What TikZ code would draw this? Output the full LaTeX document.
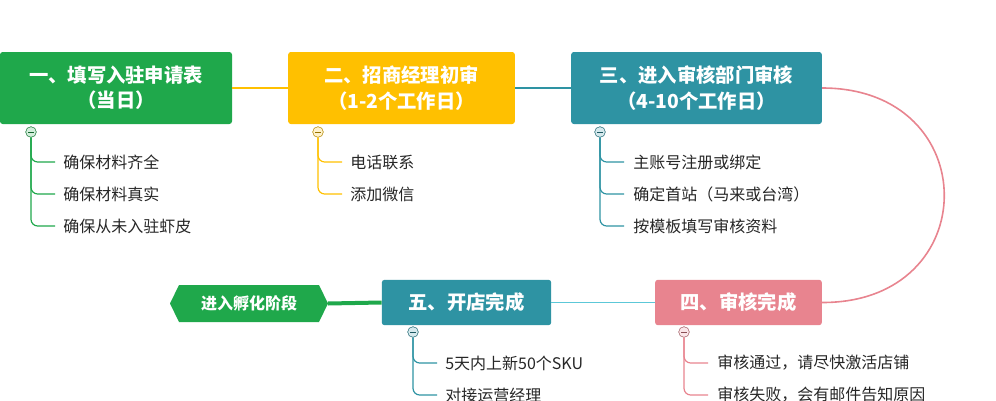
\documentclass[tikz,border=0pt]{standalone}
\usepackage{fontspec}
\setmainfont{Noto Sans CJK SC}
\definecolor{cg}{HTML}{1FA84B}
\definecolor{cy}{HTML}{FFC000}
\definecolor{ct}{HTML}{2E93A3}
\definecolor{cp}{HTML}{E8848F}
\definecolor{cl}{HTML}{5CC8D8}
\begin{document}
\begin{tikzpicture}[x=0.75pt,y=-0.75pt,
 box/.style={rounded corners=2pt,text=white,font=\fontsize{14.5}{19}\selectfont\bfseries,align=center,inner sep=0pt},
 leaf/.style={anchor=west,font=\fontsize{12}{14}\selectfont,text=black!85,inner sep=0pt},
 knob/.style={circle,draw=#1!70!black,fill=#1!20,minimum size=8pt,inner sep=0pt,
   path picture={\draw[#1!60!black,line width=0.5pt] ([xshift=-2pt]path picture bounding box.center)--([xshift=2pt]path picture bounding box.center);}}]
\useasboundingbox (0,0) rectangle (996,400);
\node[box,fill=cg,minimum width=174pt,minimum height=54pt] (b1) at (116,88) {一、填写入驻申请表\\（当日）};
\node[box,fill=cy,minimum width=170pt,minimum height=54pt] (b2) at (401.5,88) {二、招商经理初审\\（1-2个工作日）};
\node[box,fill=ct,minimum width=188pt,minimum height=54pt] (b3) at (696.5,88) {三、进入审核部门审核\\（4-10个工作日）};
\node[box,fill=cp,minimum width=125pt,minimum height=34pt] (b4) at (738.5,302.5) {四、审核完成};
\node[box,fill=ct,minimum width=127pt,minimum height=34pt] (b5) at (466.5,302.5) {五、开店完成};
\draw[fill=cg,draw=none] (170,303.5)--(179,285)--(319,285)--(328,303.5)--(319,322)--(179,322)--cycle;
\node[text=white,font=\fontsize{12}{14}\selectfont\bfseries] (ht) at (249,303.5) {进入孵化阶段};
\coordinate (hr) at (328,303.5);
\draw[cy,line width=1.2pt] (b1.east)--(b2.west);
\draw[ct,line width=1.2pt] (b2.east)--(b3.west);
\draw[cp,line width=1.2pt] (b3.east) .. controls (985,88) and (985,303) .. (b4.east);
\draw[cl,line width=1.2pt] (b4.west)--(b5.east);
\draw[cg,line width=3pt] (b5.west)--(hr);
\foreach \k/\x/\y/\c in {k1/31/132/cg,k2/318/132/cy,k3/600/132/ct,k4/684/332/cp,k5/413/332/ct}{
 \node[knob=\c] (\k) at (\x,\y) {};
}
\foreach \k/\x/\c/\tx/\list in {
 k1/31/cg/63/{162/确保材料齐全,194/确保材料真实,226/确保从未入驻虾皮},
 k2/318/cy/350/{162/电话联系,194/添加微信},
 k3/600/ct/633/{162/主账号注册或绑定,194/确定首站（马来或台湾）,226/按模板填写审核资料},
 k4/684/cp/717/{363/审核通过，请尽快激活店铺,395/审核失败，会有邮件告知原因},
 k5/413/ct/445/{363/5天内上新50个SKU,395/对接运营经理}}{
 \foreach \yy/\tt in \list {
  \node[leaf] (t\k\yy) at (\tx,\yy) {\tt};
  \draw[\c,line width=0.9pt,rounded corners=5pt] (\k.south) -- (\x,\yy) -- (\x+24,\yy);
 }
}
\end{tikzpicture}
\end{document}
